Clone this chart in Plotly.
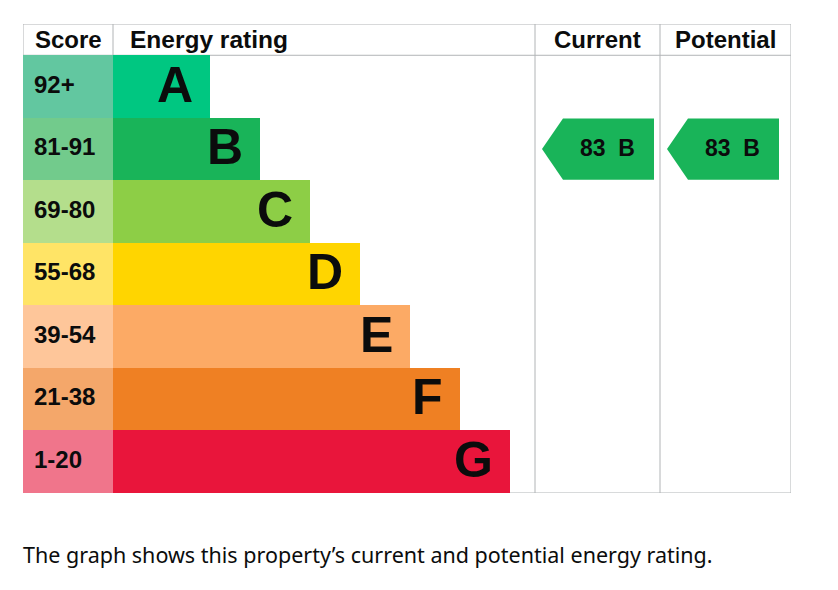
import plotly.graph_objects as go

# ---- data ----
bands = ["A", "B", "C", "D", "E", "F", "G"]
score_ranges = ["92+", "81-91", "69-80", "55-68", "39-54", "21-38", "1-20"]
band_min_scores = [92, 81, 69, 55, 39, 21, 1]
band_colors = ["#00c781", "#19b459", "#8dce46", "#ffd500", "#fcaa65", "#ef8023", "#e9153b"]
score_colors = ["#62c7a0", "#72cb8c", "#b4de8c", "#ffe466", "#fec69a", "#f4a76a", "#f0758b"]
current_score = 83
potential_score = 83
column_titles = ["Score", "Energy rating", "Current", "Potential"]
caption = "The graph shows this property\u2019s current and potential energy rating."

# ---- layout constants (pixel-like units of the x axis) ----
COL_EDGES = [0, 90, 512, 637, 768]
BAR_FIRST = 97
BAR_STEP = 50
ARROW_W = 112
BORDER = "#b1b4b6"
FONT = "Liberation Sans, Arial, sans-serif"

n = len(bands)
rows = list(range(n))
bar_lengths = [BAR_FIRST + BAR_STEP * i for i in rows]


def band_index(score):
    for i, m in enumerate(band_min_scores):
        if score >= m:
            return i
    return n - 1


fig = go.Figure()

# score cells
fig.add_trace(go.Bar(
    y=rows, x=[COL_EDGES[1] - COL_EDGES[0]] * n, base=[COL_EDGES[0]] * n,
    orientation="h", width=1, marker=dict(color=score_colors, line=dict(width=0)),
    hoverinfo="skip", showlegend=False))

# rating bars
fig.add_trace(go.Bar(
    y=rows, x=bar_lengths, base=[COL_EDGES[1]] * n,
    orientation="h", width=1, marker=dict(color=band_colors, line=dict(width=0)),
    hoverinfo="skip", showlegend=False))

# score labels
fig.add_trace(go.Scatter(
    y=rows, x=[COL_EDGES[0] + 11] * n, mode="text", text=score_ranges,
    textposition="middle right",
    textfont=dict(family=FONT, size=24, color="#0b0c0c", weight="bold"),
    hoverinfo="skip", showlegend=False))

# band letters
for i in rows:
    fig.add_annotation(
        x=COL_EDGES[1] + bar_lengths[i], y=i, text="<b>%s</b>" % bands[i],
        xanchor="right", yanchor="middle", xshift=-15, yshift=2, showarrow=False,
        font=dict(family=FONT, size=50, color="#0b0c0c"))


# current / potential arrows
def add_arrow(score, col):
    r = band_index(score)
    x0 = COL_EDGES[col] + 7
    x1 = x0 + ARROW_W
    notch = 21
    h = 0.49
    xs = [x0, x0 + notch, x1, x1, x0 + notch, x0]
    ys = [r, r - h, r - h, r + h, r + h, r]
    fig.add_trace(go.Scatter(
        x=xs, y=ys, mode="lines", fill="toself", fillcolor=band_colors[r],
        line=dict(width=0, color=band_colors[r]), hoverinfo="skip", showlegend=False))
    fig.add_annotation(
        x=(x0 + notch + x1) / 2, y=r, text="<b>%d\u00a0\u00a0%s</b>" % (score, bands[r]),
        showarrow=False, xanchor="center", yanchor="middle", xshift=-1, yshift=1,
        font=dict(family=FONT, size=23, color="#0b0c0c"))


add_arrow(current_score, 2)
add_arrow(potential_score, 3)

# header titles
header_y = -0.75
fig.add_annotation(x=(COL_EDGES[0] + COL_EDGES[1]) / 2, y=header_y, text="<b>%s</b>" % column_titles[0],
                   showarrow=False, xanchor="center", yanchor="middle",
                   font=dict(family=FONT, size=24, color="#0b0c0c"))
fig.add_annotation(x=COL_EDGES[1] + 15, y=header_y, text="<b>%s</b>" % column_titles[1],
                   showarrow=False, xanchor="left", yanchor="middle",
                   font=dict(family=FONT, size=24.5, color="#0b0c0c"))
for c in (2, 3):
    fig.add_annotation(x=(COL_EDGES[c] + COL_EDGES[c + 1]) / 2, y=header_y,
                       text="<b>%s</b>" % column_titles[c],
                       showarrow=False, xanchor="center", yanchor="middle",
                       font=dict(family=FONT, size=24, color="#0b0c0c"))

# table lines
line = dict(color=BORDER, width=1)
shapes = [
    dict(type="rect", xref="x", yref="y", x0=COL_EDGES[0], x1=COL_EDGES[-1], y0=-1, y1=n - 0.5, line=line, layer="below"),
    dict(type="line", xref="x", yref="y", x0=COL_EDGES[0], x1=COL_EDGES[-1], y0=-0.5, y1=-0.5, line=line, layer="below"),
    dict(type="line", xref="x", yref="y", x0=COL_EDGES[1], x1=COL_EDGES[1], y0=-1, y1=-0.5, line=line, layer="below"),
    dict(type="line", xref="x", yref="y", x0=COL_EDGES[2], x1=COL_EDGES[2], y0=-1, y1=n - 0.5, line=line, layer="below"),
    dict(type="line", xref="x", yref="y", x0=COL_EDGES[3], x1=COL_EDGES[3], y0=-1, y1=n - 0.5, line=line, layer="below"),
]

fig.add_annotation(xref="paper", yref="paper", x=0, y=-0.131, text=caption, showarrow=False,
                   xanchor="left", yanchor="middle", xshift=-2,
                   font=dict(family="Noto Sans, sans-serif", size=21.5, color="#0b0c0c"))

fig.update_layout(
    width=830, height=582, margin=dict(l=15, r=47, t=16, b=97),
    paper_bgcolor="white", plot_bgcolor="white", shapes=shapes,
    barmode="overlay", bargap=0,
    xaxis=dict(range=[COL_EDGES[0], COL_EDGES[-1]], visible=False, fixedrange=True),
    yaxis=dict(range=[n - 0.5, -1], visible=False, fixedrange=True),
)

fig.write_html("out.html")
